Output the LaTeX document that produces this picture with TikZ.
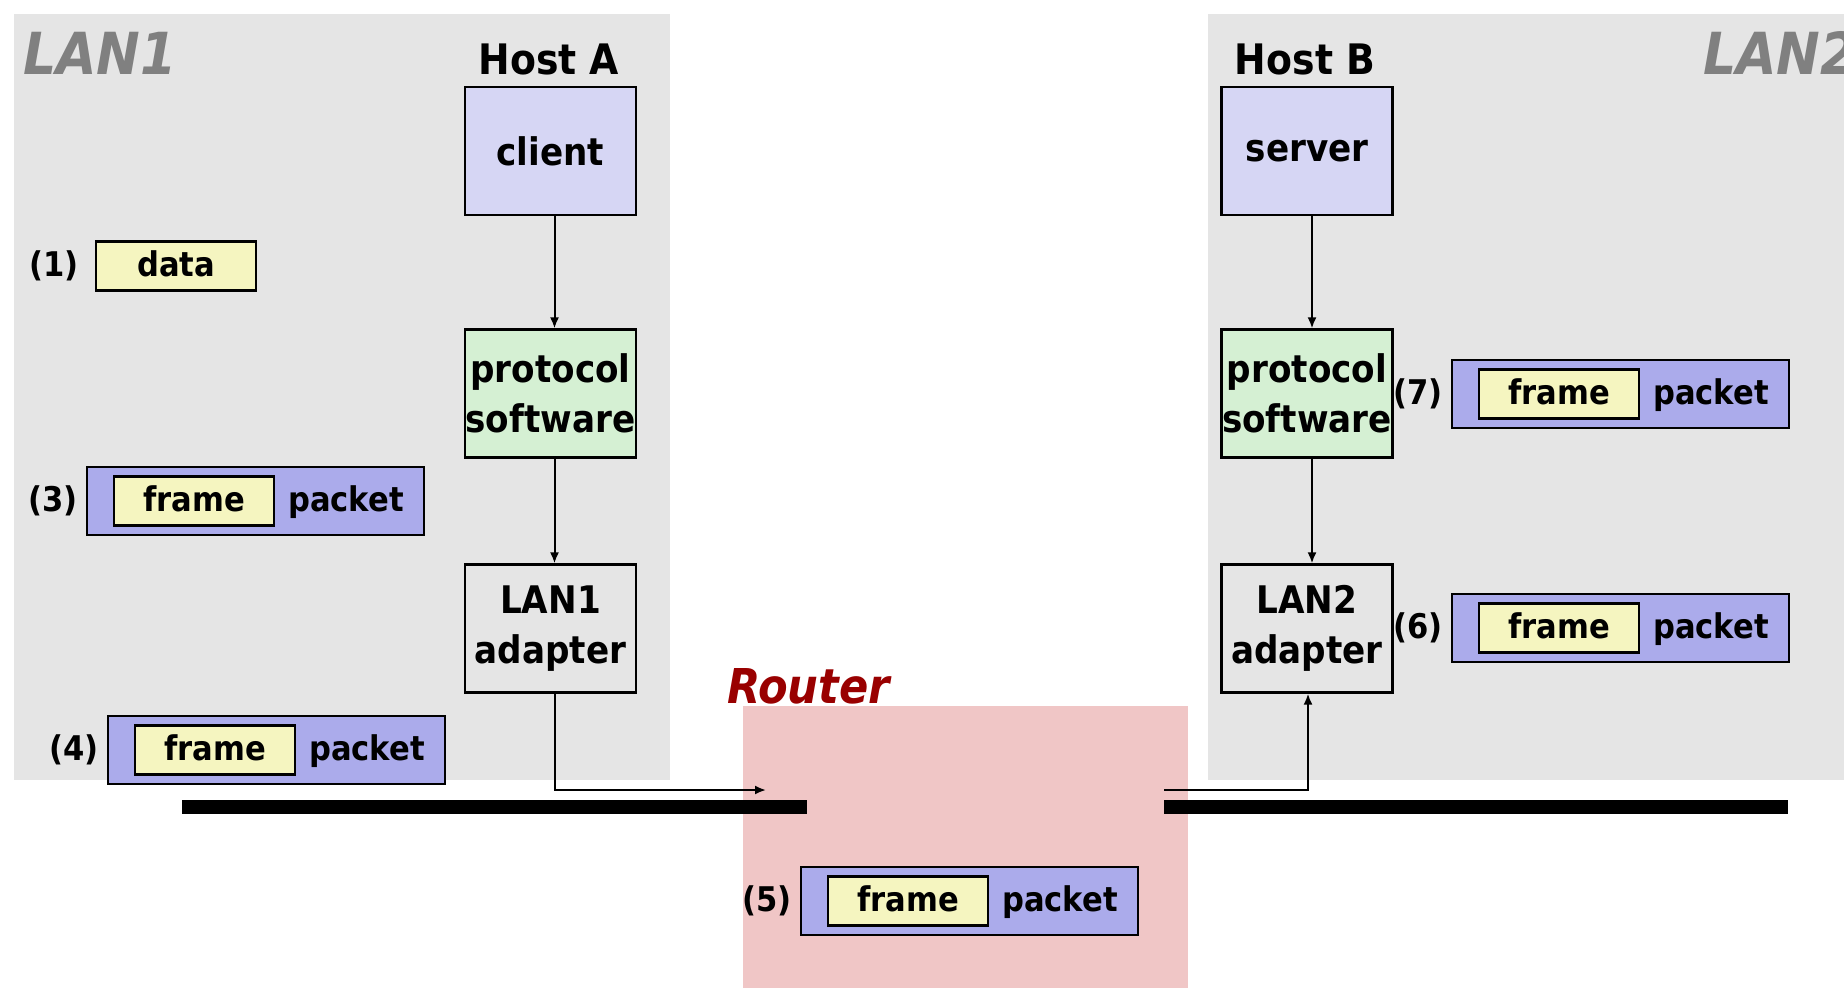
\documentclass[tikz,border=0pt]{standalone}
\usepackage{fontspec}
\setmainfont{DejaVu Sans Condensed}
\usetikzlibrary{arrows.meta}
\definecolor{lanbg}{HTML}{E5E5E5}
\definecolor{routerbg}{HTML}{F0C6C6}
\definecolor{appfill}{HTML}{D6D6F4}
\definecolor{protofill}{HTML}{D5F0D3}
\definecolor{pktfill}{HTML}{ABABEB}
\definecolor{framefill}{HTML}{F5F5C0}
\definecolor{routerred}{HTML}{990000}
\definecolor{langray}{HTML}{808080}
\tikzset{
  box/.style={draw, line width=2.2pt, minimum width=171pt, minimum height=128pt, align=center, inner sep=0pt, font=\fontsize{38}{50}\selectfont\bfseries},
  pktbox/.style={draw, line width=2.2pt, fill=pktfill, minimum width=337pt, minimum height=68pt, inner sep=0pt},
  framebox/.style={draw, line width=2.2pt, fill=framefill, minimum width=160pt, minimum height=49pt, inner sep=0pt, text height=26pt, text depth=6pt, font=\fontsize{34}{40}\selectfont\bfseries},
  txt/.style={inner sep=0pt, text height=26pt, text depth=6pt, font=\fontsize{34}{40}\selectfont\bfseries},
  hosttxt/.style={inner sep=0pt, font=\fontsize{42}{48}\selectfont\bfseries},
  lantxt/.style={inner sep=0pt, text=langray, font=\fontsize{58}{64}\selectfont\bfseries\itshape},
  conn/.style={line width=2pt, -{Latex[length=11pt,width=9pt]}},
  bus/.style={line width=14pt}
}
\newcommand\pkt[4]{%
  \node[pktbox, anchor=west] (#1) at (#2,#3) {};
  \node[framebox, anchor=west] (#1f) at ([xshift=27pt]#1.west) {frame};
  \node[txt] (#1p) at ([xshift=260pt]#1.west) {packet};
  \node[txt, anchor=east] (#1n) at ([xshift=-8pt]#1.west) {(#4)};
}
\begin{document}
\begin{tikzpicture}[x=1pt,y=-1pt]
\useasboundingbox (0,0) rectangle (1844,988);
% regions
\fill[lanbg] (14,14) rectangle (670,780);
\fill[lanbg] (1208,14) rectangle (1844,780);
\fill[routerbg] (743,706) rectangle (1188,988);
\node[lantxt, anchor=west] (lan1) at (23,53) {LAN1};
\node[lantxt, anchor=west] (lan2) at (1703,53) {LAN2};
\node[inner sep=0pt, text=routerred, font=\fontsize{48}{54}\selectfont\bfseries\itshape, anchor=west] (router) at (727,686) {Router};
% hosts
\node[hosttxt] (hosta) at (549,59) {Host A};
\node[hosttxt] (hostb) at (1305,59) {Host B};
\node[box, fill=appfill] (client) at (550.5,151) {client};
\node[box, fill=protofill] (protoA) at (550.5,393.5) {protocol\\software};
\node[box] (adA) at (550.5,628.5) {LAN1\\adapter};
\node[box, fill=appfill] (server) at (1307,151) {\raisebox{-3pt}{server}};
\node[box, fill=protofill] (protoB) at (1307,393.5) {protocol\\software};
\node[box] (adB) at (1307,628.5) {LAN2\\adapter};
% buses
\draw[bus] (182,807) -- (807,807);
\draw[bus] (1164,807) -- (1788,807);
% connectors
\coordinate (r1) at (766,790);
\coordinate (r2) at (1164,790);
\draw[conn] ([xshift=4pt]client.south) -- ([xshift=4pt]protoA.north);
\draw[conn] ([xshift=4pt]protoA.south) -- ([xshift=4pt]adA.north);
\draw[conn] ([xshift=4pt]adA.south) |- (r1);
\draw[conn] ([xshift=5pt]server.south) -- ([xshift=5pt]protoB.north);
\draw[conn] ([xshift=5pt]protoB.south) -- ([xshift=5pt]adB.north);
\draw[conn] (r2) -| ([xshift=1pt]adB.south);
% packets
\node[framebox, minimum width=160pt] (data) at (176,266) {data};
\node[txt, anchor=east] (datan) at ([xshift=-16pt]data.west) {(1)};
\pkt{p3}{86}{501}{3}
\pkt{p4}{107}{750}{4}
\pkt{p5}{800}{901}{5}
\pkt{p6}{1451}{628}{6}
\pkt{p7}{1451}{394}{7}
\end{tikzpicture}
\end{document}
